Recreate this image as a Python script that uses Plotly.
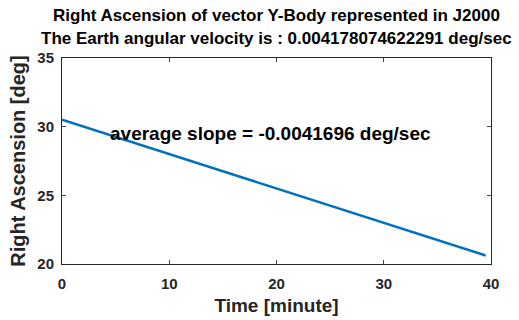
import plotly.graph_objects as go

time_min = [0, 5, 10, 15, 20, 25, 30, 35, 39.5]
ra_deg = [30.5, 29.25, 28.0, 26.75, 25.5, 24.25, 23.0, 21.78, 20.62]
x_ticks = [0, 10, 20, 30, 40]
y_ticks = [20, 25, 30, 35]

title_line1 = "Right Ascension of vector Y-Body represented in J2000"
title_line2 = "The Earth angular velocity is : 0.004178074622291 deg/sec"
slope_text = "average slope = -0.0041696 deg/sec"

FONT = "Liberation Sans, Arial"
axcol = "#262626"

fig = go.Figure()
fig.add_trace(go.Scatter(x=time_min, y=ra_deg, mode="lines",
                         line=dict(color="#0072BD", width=2.5), showlegend=False))

fig.update_layout(
    width=519, height=320,
    margin=dict(l=62, r=28, t=58, b=56),
    paper_bgcolor="white", plot_bgcolor="white",
    font=dict(family=FONT, color=axcol),
    xaxis=dict(range=[0, 40], tickvals=x_ticks, ticks="inside", ticklen=4,
               showline=True, linecolor=axcol, linewidth=1, mirror="ticks",
               showgrid=False, zeroline=False, ticklabelstandoff=6, automargin=False,
               tickfont=dict(size=15, family=FONT, weight="bold"),
               title=dict(text="<b>Time [minute]</b>", font=dict(size=19), standoff=7)),
    yaxis=dict(range=[20, 35], tickvals=y_ticks, ticks="inside", ticklen=4,
               showline=True, linecolor=axcol, linewidth=1, mirror="ticks",
               showgrid=False, zeroline=False, ticklabelstandoff=4, automargin=False,
               tickfont=dict(size=15, family=FONT, weight="bold"),
               title=dict(text="<b>Right Ascension [deg]</b>", font=dict(size=20), standoff=6)),
)
fig.add_annotation(x=0.5, y=1.205, xref="paper", yref="paper", text="<b>" + title_line1 + "</b>",
                   showarrow=False, xanchor="center", yanchor="middle",
                   font=dict(size=17, color="black", family=FONT))
fig.add_annotation(x=0.5, y=1.093, xref="paper", yref="paper", text="<b>" + title_line2 + "</b>",
                   showarrow=False, xanchor="center", yanchor="middle",
                   font=dict(size=17, color="black", family=FONT))
fig.add_annotation(x=4.3, y=29.5, xref="x", yref="y", text="<b>" + slope_text + "</b>",
                   showarrow=False, xanchor="left", yanchor="middle",
                   font=dict(size=19, color="black", family=FONT))

fig.write_html("out.html")
